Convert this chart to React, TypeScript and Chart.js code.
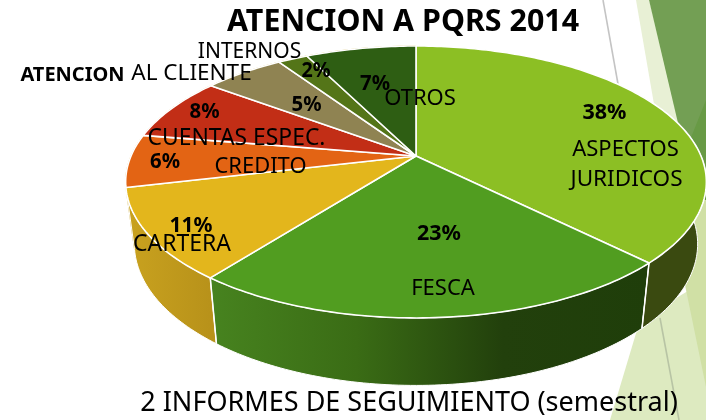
import React, { useEffect, useRef } from "react";
import { Chart, registerables } from "chart.js";

Chart.register(...registerables);

const TITLE = "ATENCION A PQRS 2014";
const SUBTITLE = "2 INFORMES DE SEGUIMIENTO (semestral)";
const categories = ["ASPECTOS JURIDICOS", "FESCA", "CARTERA", "CREDITO", "CUENTAS ESPEC.", "ATENCION AL CLIENTE", "INTERNOS", "OTROS"];
const values = [37.5, 23, 10.8, 6.3, 7.6, 5.4, 2.0, 7.4];
const topColors = ["#8CBF24", "#519D20", "#E3B61C", "#E36414", "#C22E16", "#8F8352", "#547518", "#2E5E13"];
const sideStops: string[][] = [
  ["#3A4A10", "#3A4A10"],
  ["#47831F", "#3A6C15", "#22400C", "#1F3E0A"],
  ["#C9A21F", "#B8921A"],
  ["#C9A21F", "#C9A21F"],
  ["#C9A21F", "#C9A21F"],
  ["#6B623D", "#6B623D"],
  ["#3F5812", "#3F5812"],
  ["#22460E", "#22460E"],
];

const FONT = '"Noto Sans"';
// placement of the text pieces: [text, centre x, centre y, size, bold, fitted width]
const textPieces: [string, number, number, number, boolean, number][] = [
  ["38%", 604.5, 113, 21.5, true, 44],
  ["ASPECTOS", 625.5, 150, 22, false, 108],
  ["JURIDICOS", 626.5, 180, 22.5, false, 112],
  ["23%", 439, 234, 21.5, true, 44],
  ["FESCA", 443, 289, 22, false, 65],
  ["11%", 191, 226, 21.5, true, 43],
  ["CARTERA", 182, 244, 23, false, 98],
  ["6%", 165, 162, 21.5, true, 30],
  ["CREDITO", 260.5, 167, 22, false, 92],
  ["8%", 204.5, 112, 21.5, true, 30],
  ["CUENTAS ESPEC.", 236.5, 138, 23, false, 178],
  ["5%", 306.5, 105, 21.5, true, 30],
  ["ATENCION", 72.5, 75, 20, true, 105],
  ["AL CLIENTE", 191.5, 74, 22.5, false, 121],
  ["INTERNOS", 249.5, 52, 21, false, 105],
  ["2%", 316, 71, 21.5, true, 29],
  ["7%", 375, 84, 21.5, true, 30],
  ["OTROS", 420, 99, 22, false, 72],
];

// perspective view of the disc
const view = { cx: 416, cy: 156, a: 285, b: 131, k: 0.191, shrink: 0.97, base: 61, grow: 0.04 };
const topPoint = (ang: number) => {
  const u = Math.cos(ang), v = Math.sin(ang), d = 1 - view.k * v;
  return { x: view.cx + (view.a * u) / d, y: view.cy + (view.b * v) / d };
};
const lowPoint = (ang: number) => {
  const p = topPoint(ang);
  return { x: view.cx + (p.x - view.cx) * view.shrink, y: p.y + view.base + (p.y - view.cy) * view.grow };
};
const anglesBetween = (s: number, e: number) => {
  const n = Math.max(2, Math.ceil((e - s) / (Math.PI / 180)));
  const out: number[] = [];
  for (let i = 0; i <= n; i++) out.push(s + ((e - s) * i) / n);
  return out;
};

const perspectivePie = {
  id: "perspectivePie",
  afterLayout(chart: any) {
    chart.titleBlock.left = 100;
    const sub = chart.boxes.find((b: any) => b.options && b.options.text === SUBTITLE);
    if (sub) sub.left = 112;
  },
  beforeDatasetsDraw(chart: any) {
    const ctx = chart.ctx as CanvasRenderingContext2D;
    const arcs = chart.getDatasetMeta(0).data as any[];
    ctx.save();
    ctx.lineJoin = "round";
    // walls, far ones first
    [...arcs].map((arc, i) => ({ arc, i })).reverse().forEach(({ arc, i }) => {
      const angs = anglesBetween(arc.startAngle, arc.endAngle);
      ctx.beginPath();
      angs.forEach((t, j) => {
        const p = topPoint(t);
        j ? ctx.lineTo(p.x, p.y) : ctx.moveTo(p.x, p.y);
      });
      [...angs].reverse().forEach((t) => {
        const p = lowPoint(t);
        ctx.lineTo(p.x, p.y);
      });
      ctx.closePath();
      const xs = angs.map((t) => topPoint(t).x);
      const g = ctx.createLinearGradient(Math.min(...xs), 0, Math.max(...xs), 0);
      const stops = sideStops[i];
      stops.forEach((c, j) => g.addColorStop(j / (stops.length - 1), c));
      ctx.fillStyle = g;
      ctx.fill();
      ctx.strokeStyle = i < 3 ? "#FFFFFF" : "#C9A21F";
      ctx.lineWidth = 1;
      ctx.stroke();
    });
    // separators on the front wall
    arcs.forEach((arc, i) => {
      if (i > 0 && i < 3) {
        const a = topPoint(arc.startAngle), b = lowPoint(arc.startAngle);
        ctx.beginPath();
        ctx.moveTo(a.x, a.y);
        ctx.lineTo(b.x, b.y);
        ctx.strokeStyle = "#FFFFFF";
        ctx.lineWidth = 1.5;
        ctx.stroke();
      }
    });
    // top faces
    arcs.forEach((arc, i) => {
      ctx.beginPath();
      ctx.moveTo(view.cx, view.cy);
      anglesBetween(arc.startAngle, arc.endAngle).forEach((t) => {
        const p = topPoint(t);
        ctx.lineTo(p.x, p.y);
      });
      ctx.closePath();
      ctx.fillStyle = topColors[i];
      ctx.fill();
      ctx.strokeStyle = "#FFFFFF";
      ctx.lineWidth = 1.6;
      ctx.stroke();
    });
    ctx.restore();
    return false;
  },
  afterDraw(chart: any) {
    const ctx = chart.ctx as CanvasRenderingContext2D;
    ctx.save();
    ctx.fillStyle = "#000000";
    ctx.textAlign = "center";
    ctx.textBaseline = "middle";
    textPieces.forEach(([text, x, y, size, bold, width]) => {
      ctx.font = `${bold ? "bold " : ""}${size}px ${FONT}`;
      ctx.fillText(text, x, y, width);
    });
    ctx.restore();
  },
};

export default function App() {
  const ref = useRef<HTMLCanvasElement>(null);
  useEffect(() => {
    document.body.style.margin = "0";
    const chart = new Chart(ref.current as HTMLCanvasElement, {
      type: "pie",
      data: {
        labels: categories,
        datasets: [{ data: values, backgroundColor: topColors, borderColor: "#FFFFFF" }],
      },
      options: {
        animation: false,
        responsive: false,
        plugins: {
          legend: { display: false },
          tooltip: { enabled: false },
          title: { display: true, text: TITLE, color: "#000000", padding: { top: 4, bottom: 0 }, font: { family: FONT, size: 30.4, weight: "bold" } },
          subtitle: { display: true, text: SUBTITLE, position: "bottom", color: "#000000", padding: 0, font: { family: FONT, size: 27, weight: "normal" } },
        },
      },
      plugins: [perspectivePie],
    } as any);
    return () => chart.destroy();
  }, []);
  return (
    <div style={{ position: "fixed", left: 0, top: 0, width: 706, height: 420, overflow: "hidden", background: "#FFFFFF" }}>
      <svg width={706} height={420} style={{ position: "absolute", left: 0, top: 0 }}>
        <polygon points="636,0 649,0 690,150 655,110" fill="#E8F0D5" />
        <polygon points="649,0 706,0 706,160 682,140" fill="#739F54" />
        <polygon points="706,100 690,140 700,200 706,200" fill="#689A45" />
        <polygon points="640,320 610,420 706,420 706,280" fill="#DDEAC0" />
        <polygon points="685,285 706,387 706,200 695,200" fill="#D0E0A5" />
        <line x1={603} y1={0} x2={618} y2={84} stroke="#C4C4C4" strokeWidth={1.6} />
        <line x1={660} y1={318} x2={679} y2={420} stroke="#B8C4A4" strokeWidth={1.6} />
      </svg>
      <canvas ref={ref} width={706} height={420} style={{ position: "absolute", left: 0, top: 0, display: "block" }} />
    </div>
  );
}
